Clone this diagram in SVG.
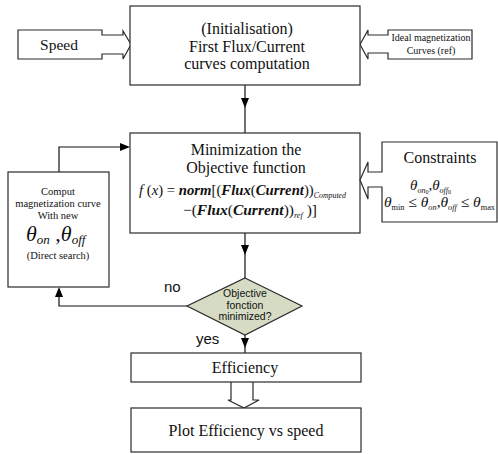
<svg xmlns="http://www.w3.org/2000/svg" width="498" height="454" viewBox="0 0 498 454">
  <style>
    .box { fill: #ffffff; stroke: #2a2a2a; stroke-width: 1.2; }
    .wire { fill: none; stroke: #111111; stroke-width: 1.2; }
  </style>

  <rect width="498" height="454" fill="#ffffff"/>

  <!-- connectors -->
  <g id="connectors">
    <!-- init -> minimization -->
    <line class="wire" x1="245" y1="85" x2="245" y2="133"/>
    <path d="M241,98 L249,98 L245,108 Z" fill="#000"/>
    <!-- minimization -> decision -->
    <line class="wire" x1="245" y1="233" x2="245" y2="278"/>
    <path d="M241,245 L249,245 L245,255 Z" fill="#000"/>
    <!-- decision yes -> efficiency -->
    <line class="wire" x1="245" y1="335" x2="245" y2="353"/>
    <path d="M241,338 L249,338 L245,348 Z" fill="#000"/>
    <!-- decision no -> new angles -->
    <polyline class="wire" points="187,306 59,306 59,289"/>
    <path d="M55,297 L63,297 L59,287 Z" fill="#000"/>
    <!-- new angles -> minimization -->
    <polyline class="wire" points="59,172 59,147 122,147"/>
    <path d="M120,143 L120,151 L130,147 Z" fill="#000"/>
    <!-- efficiency => plot (hollow arrow) -->
    <path class="box" d="M231,382 V400 H228 L244,408 L259,400 H253 V382"/>
    <!-- labels -->
    <g font-family="'Liberation Sans', Arial, sans-serif" font-size="15" fill="#111">
      <text x="164" y="292">no</text>
      <text x="196" y="344">yes</text>
    </g>
  </g>

  <g font-family="'Liberation Serif', 'Times New Roman', serif" fill="#111">
  <!-- speed input callout -->
  <g id="speed">
    <path class="box" d="M18,30 H102 V35 H123 V31 L131,44.5 L123,59 V54 H102 V59 H18 Z"/>
    <text x="59" y="50" font-size="15.5" text-anchor="middle">Speed</text>
  </g>

  <!-- reference curves callout -->
  <g id="ideal">
    <path class="box" d="M388,30 H472 V59 H388 V53 H368 V59 L360,44.5 L368,30 V35 H388 Z"/>
    <text x="431" y="41" font-size="10" text-anchor="middle">Ideal magnetization</text>
    <text x="431" y="54" font-size="10" text-anchor="middle">Curves (ref)</text>
  </g>

  <!-- initialisation -->
  <g id="init">
    <rect class="box" x="130" y="6" width="230" height="79"/>
    <text x="247" y="34" font-size="16" text-anchor="middle">(Initialisation)</text>
    <text x="247" y="52" font-size="16" text-anchor="middle">First Flux/Current</text>
    <text x="247" y="69" font-size="16" text-anchor="middle">curves computation</text>
  </g>

  <!-- minimization -->
  <g id="minimization">
    <rect class="box" x="130" y="133" width="230" height="100"/>
    <text x="246" y="155" font-size="16" text-anchor="middle">Minimization the</text>
    <text x="246" y="173" font-size="16" text-anchor="middle">Objective function</text>
    <text x="139" y="195" font-size="15" font-style="italic" textLength="207" lengthAdjust="spacingAndGlyphs">f <tspan font-style="normal">(</tspan>x<tspan font-style="normal">) = </tspan><tspan font-weight="bold">norm</tspan><tspan font-style="normal">[(</tspan><tspan font-weight="bold">Flux</tspan><tspan font-style="normal">(</tspan><tspan font-weight="bold">Current</tspan><tspan font-style="normal">))</tspan><tspan font-size="8" dy="3">Computed</tspan></text>
    <text x="183" y="215" font-size="15" font-style="italic" textLength="134" lengthAdjust="spacingAndGlyphs"><tspan font-style="normal">−(</tspan><tspan font-weight="bold">Flux</tspan><tspan font-style="normal">(</tspan><tspan font-weight="bold">Current</tspan><tspan font-style="normal">))</tspan><tspan font-size="8" dy="3">ref</tspan><tspan font-style="normal" dy="-3"> )]</tspan></text>
  </g>

  <!-- constraints callout -->
  <g id="constraints">
    <path class="box" d="M382,142 H497 V222 H382 V187 H368 V199 L360,180 L368,162 V172 H382 Z"/>
    <text x="440" y="163" font-size="16" text-anchor="middle">Constraints</text>
    <text x="410" y="190" font-size="15" font-style="italic">θ<tspan font-size="8" dy="3">on</tspan><tspan font-size="6" font-style="normal" dy="1">0</tspan><tspan font-style="normal" dy="-4">,</tspan>θ<tspan font-size="8" dy="3">off</tspan><tspan font-size="6" font-style="normal" dy="1">0</tspan></text>
    <text x="384" y="207" font-size="15" font-style="italic" textLength="111" lengthAdjust="spacingAndGlyphs">θ<tspan font-size="8" font-style="normal" dy="3">min</tspan><tspan font-style="normal" dy="-3"> ≤ </tspan>θ<tspan font-size="8" dy="3">on</tspan><tspan font-style="normal" dy="-3">,</tspan>θ<tspan font-size="8" dy="3">off</tspan><tspan font-style="normal" dy="-3">  ≤ </tspan>θ<tspan font-size="8" font-style="normal" dy="3">max</tspan></text>
  </g>

  <!-- new angles computation -->
  <g id="direct-search">
    <rect class="box" x="8" y="172" width="101" height="115"/>
    <text x="58" y="195" font-size="10.5" text-anchor="middle">Comput</text>
    <text x="58" y="207" font-size="10.5" text-anchor="middle">magnetization curve</text>
    <text x="58" y="219" font-size="10.5" text-anchor="middle">With new</text>
    <text x="26" y="241" font-size="22" font-style="italic">θ<tspan font-size="13" dy="3">on</tspan><tspan font-style="normal" dy="-3"> ,</tspan>θ<tspan font-size="13" dy="3">off</tspan></text>
    <text x="58" y="259" font-size="10.5" text-anchor="middle">(Direct search)</text>
  </g>
  </g>

  <!-- decision -->
  <g id="decision">
    <polygon points="245,278 302,306 245,335 187,306" fill="#d6dcc4" stroke="#2a2a2a" stroke-width="1.2"/>
    <g font-family="'Liberation Sans', Arial, sans-serif" font-size="10.5" fill="#111" text-anchor="middle">
      <text x="245" y="297">Objective</text>
      <text x="245" y="309">fonction</text>
      <text x="245" y="320">minimized?</text>
    </g>
  </g>

  <g font-family="'Liberation Serif', 'Times New Roman', serif" fill="#111">
  <!-- efficiency -->
  <g id="efficiency">
    <rect class="box" x="131" y="353" width="230" height="29"/>
    <text x="245" y="373" font-size="16" text-anchor="middle">Efficiency</text>
  </g>

  <!-- plot -->
  <g id="plot">
    <rect class="box" x="131" y="408" width="230" height="44"/>
    <text x="246" y="436" font-size="16" text-anchor="middle">Plot Efficiency vs speed</text>
  </g>
  </g>
</svg>
